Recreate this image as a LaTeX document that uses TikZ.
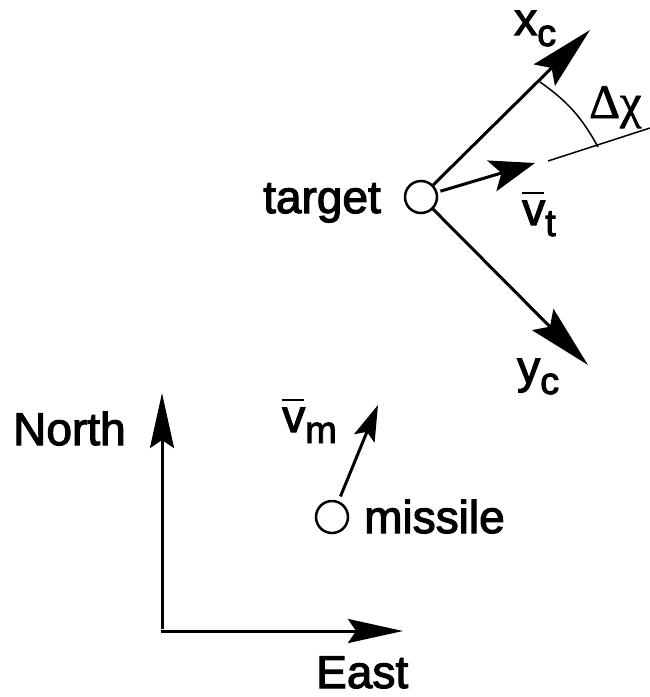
\documentclass[tikz,border=0pt]{standalone}
\usepackage{fontspec}
\setmainfont{Liberation Sans}[FakeBold=2.5]
\newfontfamily\grk{Liberation Serif}[FakeBold=1.5]
\usetikzlibrary{arrows.meta}
\newcommand\barv{\rlap{\rule[31pt]{22pt}{2pt}}v}
\newcommand\sbs[1]{\raisebox{-11pt}{\fontsize{38}{42}\selectfont #1}}
\begin{document}
\begin{tikzpicture}[x=1pt,y=-1pt,
  lbl/.style={inner sep=0pt,anchor=base west,font=\fontsize{46}{54}\selectfont},
  dot/.style={circle,draw,line width=2.5pt,minimum size=32pt,inner sep=0pt},
  bigarrow/.style={line width=3pt,-{Stealth[length=64pt,width=30pt,inset=10pt]}},
  axisarrow/.style={line width=3pt,-{Stealth[length=55pt,width=24pt,inset=8pt]}},
  vtarrow/.style={line width=3pt,-{Stealth[length=45pt,width=32pt,inset=10pt]}},
  vmarrow/.style={line width=3pt,-{Stealth[length=36pt,width=22pt,inset=7pt]}},
  thin/.style={line width=1.5pt}]
\useasboundingbox (0,0) rectangle (650,697);
% target frame
\node[dot] (tgt) at (421,197) {};
\coordinate (xtip) at (590,30);
\coordinate (ytip) at (588,365);
\coordinate (vttip) at (535,163);
\coordinate (ls) at (548,161);
\coordinate (le) at (650,128);
\coordinate (aa) at (540,82);
\coordinate (ab) at (598,147);
\draw[bigarrow] (tgt) -- (xtip);
\draw[bigarrow] (tgt) -- (ytip);
\draw[vtarrow,shorten <=3pt] (tgt) -- (vttip);
\draw[thin] (ls) -- (le);
\draw[thin] (aa) to[bend left=13] (ab);
\node[lbl] (lt) at (263,213) {target};
\node[lbl] (lxc) at (514,35) {x\sbs{c}};
\node[lbl] (lyc) at (517,383) {y\sbs{c}};
\node[lbl] (lvt) at (522,225) {\barv\sbs{t}};
\node[lbl,font=\grk\fontsize{48}{54}\selectfont] (ldc) at (589,118) {Δχ};
% missile
\node[dot] (mis) at (332,517) {};
\coordinate (vmtip) at (378,405);
\draw[vmarrow,shorten <=5pt] (mis) -- (vmtip);
\node[lbl] (lm) at (364,533) {missile};
\node[lbl] (lvm) at (282,432) {\barv\sbs{m}};
% axes
\coordinate (orig) at (162,631);
\coordinate (ntip) at (162,393);
\coordinate (etip) at (403,631);
\draw[axisarrow] ([yshift=2.5pt]orig) -- (ntip);
\draw[axisarrow] ([xshift=-1.5pt]orig) -- (etip);
\node[lbl] (ln) at (13,445) {North};
\node[lbl] (le2) at (316,688) {East};
\end{tikzpicture}
\end{document}
